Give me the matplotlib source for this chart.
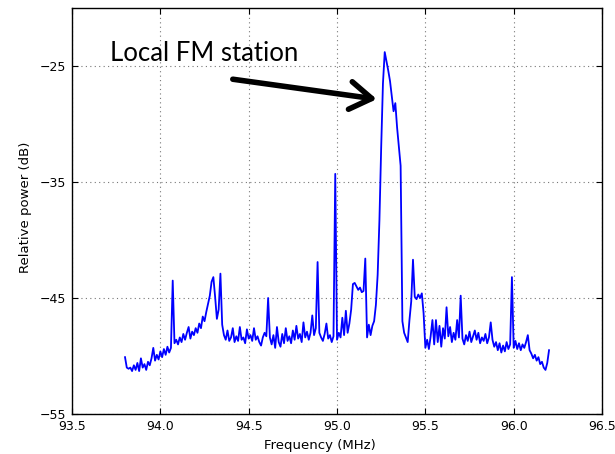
import numpy as np
import matplotlib.pyplot as plt

# spectrum sampled every 10 kHz from 93.80 to 96.20 MHz (values in dB)
f_start = 93.80
f_step = 0.01
power = [
    -50.1, -51.0, -51.1, -51.0, -51.3, -50.8, -51.2, -50.6, -51.3, -50.2,  # 93.8x
    -51.0, -50.7, -51.2, -50.5, -50.8, -50.2, -49.3, -50.4, -49.9, -50.3,  # 93.9x
    -49.6, -50.1, -49.4, -49.9, -49.2, -49.7, -49.3, -43.5, -48.9, -48.6,  # 94.0x
    -49.0, -48.4, -48.8, -48.1, -48.6, -48.0, -47.5, -48.5, -47.9, -48.2,  # 94.1x
    -47.6, -48.0, -47.2, -47.6, -46.6, -47.0, -46.2, -45.5, -44.8, -43.6,  # 94.2x
    -43.2, -44.9, -46.8, -46.0, -42.9, -47.3, -48.2, -48.6, -47.8, -48.7,  # 94.3x
    -48.4, -47.6, -48.8, -48.3, -48.7, -47.5, -48.6, -48.4, -48.9, -47.7,  # 94.4x
    -48.5, -48.2, -48.7, -47.6, -48.6, -48.3, -48.8, -49.1, -48.4, -48.0,  # 94.5x
    -48.3, -45.0, -48.4, -49.0, -48.2, -49.3, -47.5, -48.8, -49.2, -48.1,  # 94.6x
    -48.9, -47.6, -48.7, -48.3, -48.9, -47.8, -48.6, -47.4, -48.5, -48.1,  # 94.7x
    -48.8, -47.1, -48.4, -47.9, -48.6, -48.0, -46.5, -48.2, -47.6, -41.9,  # 94.8x
    -48.0, -48.4, -48.7, -48.1, -47.2, -48.5, -48.2, -48.8, -48.3, -34.3,  # 94.9x
    -48.6, -48.0, -48.4, -46.7, -48.2, -46.1, -48.0, -47.2, -46.0, -43.8,  # 95.0x
    -43.7, -44.0, -44.3, -44.1, -44.5, -44.4, -41.6, -48.4, -47.3, -48.2,  # 95.1x
    -47.4, -47.0, -45.6, -43.0, -38.3, -32.0, -26.5, -23.8, -24.6, -25.4,  # 95.2x
    -26.3, -27.6, -28.9, -28.2, -30.3, -32.0, -33.6, -47.0, -48.0, -48.4,  # 95.3x
    -48.8, -46.9, -45.3, -41.7, -44.9, -45.1, -44.7, -45.0, -44.6, -46.3,  # 95.4x
    -49.3, -48.6, -49.4, -48.3, -46.9, -49.0, -46.9, -48.8, -47.4, -49.2,  # 95.5x
    -47.6, -48.5, -45.8, -48.3, -47.5, -48.8, -48.0, -48.6, -46.9, -48.4,  # 95.6x
    -44.8, -48.5, -49.0, -48.2, -48.7, -47.9, -48.8, -48.3, -47.8, -48.6,  # 95.7x
    -48.0, -48.9, -48.4, -48.7, -48.1, -48.9, -48.4, -47.1, -48.6, -49.2,  # 95.8x
    -48.8, -49.5, -48.9, -49.7, -49.1, -49.6, -48.8, -49.4, -49.0, -43.2,  # 95.9x
    -49.3, -48.7, -49.4, -48.9, -49.5, -49.0, -49.3, -48.8, -48.2, -49.5,  # 96.0x
    -49.8, -50.2, -49.9, -50.4, -50.1, -50.7, -50.5, -51.0, -51.2, -50.6,  # 96.1x
    -49.5,
]
freq = f_start + f_step * np.arange(len(power))

xticks = [93.5, 94.0, 94.5, 95.0, 95.5, 96.0, 96.5]
yticks = [-55, -45, -35, -25]

fig = plt.figure(figsize=(6.15, 4.54), dpi=100)
ax = fig.add_axes([0.1171, 0.0881, 0.8618, 0.8943])

ax.plot(freq, power, color='#0000ff', lw=1.3)

ax.set_xlim(93.5, 96.5)
ax.set_ylim(-55, -20)
ax.set_xticks(xticks)
ax.set_xticklabels(['%.1f' % t for t in xticks])
ax.set_yticks(yticks)
ax.tick_params(direction='in', top=True, right=True, labelsize=9, length=4, pad=4)
ax.grid(True, color='#777777', linestyle=(0, (1, 3)), lw=0.8)
for s in ax.spines.values():
    s.set_linewidth(1.0)

ax.set_xlabel('Frequency (MHz)', fontsize=9.5)
ax.set_ylabel('Relative power (dB)', fontsize=9.5)
ax.xaxis.set_label_coords(0.468, -0.062)
ax.yaxis.set_label_coords(-0.0755, 0.51)

ax.annotate('', xy=(95.225, -27.86), xytext=(94.41, -26.14),
            arrowprops=dict(arrowstyle='->,head_length=0.62,head_width=0.4',
                            lw=4, color='k', mutation_scale=25,
                            shrinkA=0, shrinkB=0))
ax.text(93.715, -24.57, 'Local FM station', fontsize=18.5, family='Lato',
        ha='left', va='baseline')

fig.savefig('out.png', dpi=100)
